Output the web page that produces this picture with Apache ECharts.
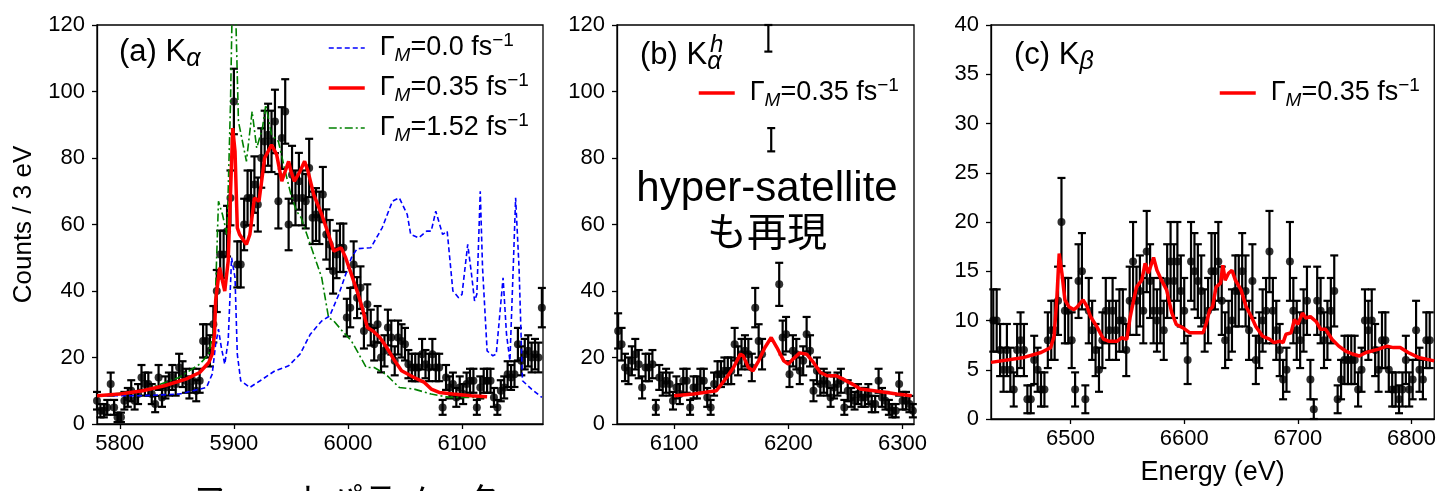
<!DOCTYPE html>
<html><head><meta charset="utf-8">
<script src="https://cdn.jsdelivr.net/npm/echarts@6/dist/echarts.min.js"></script>
<style>html,body{margin:0;padding:0;background:#fff}#c{width:1439px;height:491px}</style>
</head><body><div id="c"></div><script>
// ---------- DATA ----------
const kaTicks = [5800, 5900, 6000, 6100];
const kahTicks = [6100, 6200, 6300];
const kbTicks = [6500, 6600, 6700, 6800];

// (a) K-alpha measured counts [energy, counts]
const kaCounts = [[5780,7],[5783,4],[5786,4],[5789,5],[5792,12],[5795,5],[5798,2],[5801,2],[5804,7],[5807,8],
[5810,10],[5813,7],[5816,9],[5819,14],[5822,12],[5825,12],[5828,9],[5831,6],[5834,14],[5837,8],
[5840,11],[5843,12],[5846,14],[5849,12],[5852,17],[5855,15],[5858,13],[5861,11],[5864,13],[5867,10],
[5870,13],[5873,25],[5876,25],[5879,22],[5882,30],[5885,40],[5888,51],[5891,51],[5894,58],[5897,68],
[5900,97],[5903,48],[5906,48],[5909,60],[5912,68],[5915,68],[5918,72],[5921,66],[5924,80],[5927,85],
[5930,87],[5933,85],[5936,91],[5939,67],[5942,86],[5945,94],[5948,60],[5951,75],[5954,68],[5957,73],
[5960,68],[5963,67],[5966,77],[5969,62],[5972,63],[5975,62],[5978,69],[5981,57],[5984,54],[5987,46],
[5990,51],[5993,53],[5996,53],[5999,32],[6002,35],[6005,48],[6008,38],[6011,41],[6014,28],[6017,36],
[6020,29],[6023,24],[6026,30],[6029,20],[6032,22],[6035,29],[6038,26],[6041,19],[6044,26],[6047,25],
[6050,24],[6053,18],[6056,17],[6059,17],[6062,17],[6065,21],[6068,18],[6071,17],[6074,21],[6077,17],
[6080,17],[6083,5],[6086,14],[6089,11],[6092,12],[6095,8],[6098,11],[6101,9],[6104,12],[6107,13],
[6110,13],[6113,5],[6116,11],[6119,13],[6122,13],[6125,13],[6128,8],[6131,5],[6134,10],[6137,11],
[6140,15],[6143,14],[6146,15],[6149,24],[6152,19],[6155,21],[6158,22],[6161,20],[6164,21],[6167,20],[6170,35]];

const kaModel00 = [[5780,8.5],[5820,8.5],[5852,9],[5876,11],[5881,15],[5884,24],[5886.5,28.5],[5889,23],[5892,18],[5895,25],[5898,50],[5901,44],[5903,21],[5906,13],[5914,11],[5923,13],[5936,16],[5948,17.5],[5958,21],[5967,27],[5977,31],[5984,32.5],[5992,39],[6003,50],[6008,52.7],[6020,53],[6030,59],[6039,67],[6045,68],[6052,63],[6055,57],[6062,56],[6069,58],[6073,58],[6077,64],[6083,57],[6087,58],[6092,40],[6097,38],[6100,39],[6105,54],[6108,46],[6111,37],[6113,39],[6116,70],[6118,47],[6122,22],[6127,20.5],[6130,21],[6136,44],[6139,27],[6142,19],[6145,48],[6147,68],[6150,47],[6153,13],[6161,10.5],[6170,8]];

const kaModel035 = [[5780,8.5],[5800,9],[5820,10],[5839,11.5],[5858,13.5],[5870,15.5],[5878,18.5],[5881,21],[5883,27],[5884,37],[5887.5,47],[5890,43],[5892,40],[5895,49],[5898,79],[5899,89],[5901,82],[5903,59],[5905,57],[5911,54],[5914,57],[5918,68],[5922,67],[5927,80],[5933,84],[5937.5,81],[5942,73],[5945,76],[5948,79],[5950,76],[5953,73],[5958,76],[5962,79],[5965,76],[5970,69],[5977,63],[5983,57],[5987.5,52],[5994,53],[5998,50],[6003,45],[6008,40],[6012.5,35],[6017,29],[6022,28],[6028,26],[6034,23],[6041,19],[6047,16],[6058,14],[6067,12.5],[6073,10.5],[6080,9.5],[6092,9],[6108,8.5],[6122,8.2]];

const kaModel152 = [[5780,8.5],[5820,10],[5852,14],[5870,18],[5878,21],[5883,30],[5886.5,67],[5890,63],[5894,57],[5897,96],[5898.5,125],[5901.5,125],[5904,91],[5911,79],[5916,94],[5920,83],[5925,89],[5928,96],[5933,87],[5939,85],[5945,76],[5950,69],[5955,64],[5959,62],[5964,57],[5970,51],[5977,44],[5983,32],[5987.5,31],[5995,28],[6003,25],[6008,22],[6016,17],[6023,17],[6033,15],[6045,11],[6058,10.5],[6073,9],[6089,8],[6104,8],[6122,8]];

// (b) K-alpha hyper-satellite
const kahCounts = [[6051,28],[6054,24],[6057,17],[6060,16],[6063,19],[6066,21],[6069,18],[6072,11],[6075,17],[6078,17],[6081,18],[6084,5],[6087,14],[6090,12],[6093,13],[6096,12],[6099,7],[6102,11],[6105,9],[6108,13],[6111,13],[6114,5],[6117,11],[6120,11],[6123,13],[6126,13],[6129,8],[6132,5],[6135,12],[6138,15],[6141,15],[6144,16],[6147,16],[6150,16],[6153,24],[6156,19],[6159,21],[6162,22],[6165,21],[6168,17],[6171,35],[6174,25],[6177,21],[6192,42],[6195,26],[6198,27],[6201,15],[6204,22],[6207,21],[6210,16],[6213,19],[6216,27],[6219,22],[6222,10],[6225,16],[6228,12],[6231,13],[6234,12],[6237,8],[6240,11],[6243,12],[6246,13],[6249,5],[6252,10],[6255,8],[6258,7],[6261,9],[6264,8],[6267,8],[6270,9],[6273,6],[6276,6],[6279,13],[6282,8],[6285,7],[6288,5],[6291,4],[6294,4],[6297,12],[6300,7],[6303,7],[6306,6],[6309,4]];
// bars whose points lie behind the annotation / above the frame: [energy, low, high]
const kahOffscale = [[6182.5,112,120],[6185,82,89]];
const kahModel035 = [[6100,8.5],[6117,9],[6137,10],[6146,14],[6152,17],[6158,21],[6160.5,20.5],[6165,17],[6169,16],[6174,19],[6179.5,23],[6185,26],[6190,23],[6196,19],[6200,18],[6204,19.5],[6210,21.4],[6216,21],[6222,18.5],[6228,15.5],[6234,14.5],[6242,14.5],[6248,13.5],[6256,12],[6263,10.5],[6275,10],[6286,9.5],[6295,9],[6308,8.5]];

// (c) K-beta
const kbCounts = [[6432,10],[6435,10],[6438,7],[6441,5],[6444,7],[6447,5],[6450,3],[6453,7],[6456,8],[6459,7],
[6462,2],[6465,2],[6468,6],[6471,5],[6474,3],[6477,3],[6480,8],[6483,9],[6486,9],[6489,12],
[6492,20],[6495,11],[6498,11],[6501,8],[6504,3],[6507,14],[6510,15],[6513,2],[6516,11],[6519,9],
[6522,7],[6525,5],[6528,8],[6531,11],[6534,9],[6537,11],[6540,9],[6543,10],[6546,10],[6549,7],
[6552,12],[6555,16],[6558,12],[6561,13],[6564,11],[6567,17],[6570,14],[6573,11],[6576,10],[6579,11],
[6582,9],[6585,14],[6588,16],[6591,14],[6594,16],[6597,13],[6600,11],[6603,6],[6606,16],[6609,15],
[6612,14],[6615,13],[6618,10],[6621,11],[6624,15],[6627,15],[6630,16],[6633,12],[6636,8],[6639,9],
[6642,10],[6645,13],[6648,13],[6651,15],[6654,13],[6657,9],[6660,14],[6663,6],[6666,8],[6669,10],
[6672,11],[6675,17],[6678,11],[6681,9],[6684,7],[6687,4],[6690,5],[6693,16],[6696,11],[6699,9],
[6702,8],[6705,10],[6708,12],[6711,4],[6714,1],[6717,12],[6720,11],[6723,8],[6726,9],[6729,11],
[6732,13],[6735,2],[6738,4],[6741,6],[6744,6],[6747,6],[6750,6],[6753,3],[6756,5],[6759,10],
[6762,9],[6765,10],[6768,7],[6771,5],[6774,8],[6777,8],[6780,5],[6783,3],[6786,3],[6789,2],
[6792,3],[6795,6],[6798,3],[6801,4],[6804,9],[6807,5],[6810,4],[6813,8],[6816,8]];
const kbModel035 = [[6430,5.75],[6459,6.25],[6474,6.75],[6482.5,7.25],[6485.5,8.4],[6488,12.4],[6490,16.8],[6492.4,14.8],[6495,12.1],[6498.5,11.4],[6503,11.1],[6506,11.4],[6511,12.1],[6514.6,11.4],[6517.5,10.4],[6523,9.4],[6529,8.1],[6533.5,7.9],[6541,7.9],[6545,8.25],[6549.5,8.1],[6552.5,10.4],[6558,13.4],[6562.7,14.1],[6565.6,15.8],[6568.5,14.8],[6573,16.4],[6576,15.1],[6580,14.1],[6584.5,13.1],[6589,10.8],[6593,9.6],[6599,9.25],[6605,8.75],[6611,8.75],[6616.6,8.75],[6619.5,9.75],[6622.5,11.1],[6625,11.4],[6628,13.4],[6632,13.8],[6634,15.6],[6636,14.1],[6639,14.8],[6642,15.1],[6645,14.1],[6650,13.1],[6654.5,11.4],[6659,10.4],[6663,9.4],[6669,8.4],[6675,8.1],[6679,7.75],[6684,7.9],[6687,7.75],[6689.5,8.6],[6694,8.75],[6697,10.1],[6700,9.6],[6704,10.75],[6707,10.25],[6711,10.4],[6716,9.9],[6720,9.1],[6724.5,9.1],[6730,8.1],[6736,7.4],[6742,6.9],[6748,6.6],[6754,6.4],[6760,6.75],[6765,6.9],[6771,7.1],[6778.5,7.4],[6784,7.25],[6790,7.25],[6797,6.75],[6806,6.25],[6820,5.9]];

const gammaLabel = {G00a:'0.0', G035a:'0.35', G152a:'1.52', G035b:'0.35', G035c:'0.35'};

// ---------- CHART ----------
const FF = "'Liberation Sans', Arial, Helvetica, sans-serif";
const FJ = "'Noto Sans CJK JP', 'Liberation Sans', sans-serif";
const chart = echarts.init(document.getElementById('c'), null, {renderer:'canvas'});

const grids = [
  {left:97, top:25, width:446, height:399},
  {left:617, top:25, width:297, height:399},
  {left:991, top:25, width:446, height:399}
].map(g => Object.assign(g, {show:true, borderColor:'#000', borderWidth:1.3, containLabel:false}));

const plain = v => String(v);
function xAx(gi, min, max, ticks, name) {
  const a = {type:'value', gridIndex:gi, min, max,
    axisLine:{show:true, onZero:false, lineStyle:{color:'#000', width:1.3}},
    axisTick:{show:true, inside:false, length:5, customValues:ticks, lineStyle:{color:'#000', width:1.3}},
    axisLabel:{show:true, customValues:ticks, formatter:plain, color:'#000', fontSize:22, fontFamily:FF, margin:9},
    splitLine:{show:false}};
  if (name) Object.assign(a, {name, nameLocation:'middle', nameGap:40,
    nameTextStyle:{color:'#000', fontSize:27, fontFamily:FF}});
  return a;
}
function yAx(gi, max, interval, name) {
  const a = {type:'value', gridIndex:gi, min:0, max, interval,
    axisLine:{show:true, onZero:false, lineStyle:{color:'#000', width:1.3}},
    axisTick:{show:true, inside:false, length:5, lineStyle:{color:'#000', width:1.3}},
    axisLabel:{show:true, formatter:plain, color:'#000', fontSize:22, fontFamily:FF, margin:12},
    splitLine:{show:false}};
  if (name) Object.assign(a, {name, nameLocation:'middle', nameGap:60,
    nameTextStyle:{color:'#000', fontSize:26, fontFamily:FF}});
  return a;
}

function drawBar(params, api, x, lo, hi) {
  const cs = params.coordSys;
  const pTop = api.coord([x, hi]), pBot = api.coord([x, lo]);
  const px = pTop[0];
  if (px < cs.x - 4 || px > cs.x + cs.width + 4) return null;
  const yT = Math.max(pTop[1], cs.y), yB = Math.min(pBot[1], cs.y + cs.height);
  const st = {stroke:'#000', lineWidth:2.2};
  const ch = [{type:'line', shape:{x1:px, y1:yT, x2:px, y2:yB}, style:st}];
  if (pTop[1] >= cs.y - 0.5) ch.push({type:'line', shape:{x1:px-4, y1:pTop[1], x2:px+4, y2:pTop[1]}, style:st});
  if (pBot[1] <= cs.y + cs.height + 0.5) ch.push({type:'line', shape:{x1:px-4, y1:pBot[1], x2:px+4, y2:pBot[1]}, style:st});
  return {type:'group', children:ch};
}
function errRender(params, api) {
  const x = api.value(0), y = api.value(1), e = Math.sqrt(y);
  return drawBar(params, api, x, y - e, y + e);
}
function rangeRender(params, api) {
  return drawBar(params, api, api.value(0), api.value(1), api.value(2));
}
const errS = (gi, data) => ({type:'custom', xAxisIndex:gi, yAxisIndex:gi, data, renderItem:errRender, silent:true, z:2});
const dotS = (gi, data) => ({type:'scatter', xAxisIndex:gi, yAxisIndex:gi, data, symbol:'circle', symbolSize:8, itemStyle:{color:'#000'}, silent:true, z:3});
const lineS = (gi, name, data, color, width, type, z) => ({type:'line', name, xAxisIndex:gi, yAxisIndex:gi, data,
  showSymbol:false, symbol:'none', clip:true, lineStyle:{color, width, type}, itemStyle:{color}, z, silent:true});

const legRich = {
  g:{fontSize:27, fontFamily:FF, color:'#000', lineHeight:34, verticalAlign:'middle', padding:[0,0,0,10]},
  sub:{fontSize:19, fontFamily:FF, fontStyle:'italic', color:'#000', lineHeight:16, verticalAlign:'bottom'},
  t:{fontSize:27, fontFamily:FF, color:'#000', lineHeight:34, verticalAlign:'middle'},
  sup:{fontSize:19, fontFamily:FF, color:'#000', lineHeight:14, verticalAlign:'top'}
};
const legFmt = name => `{g|Γ}{sub|M}{t|=${gammaLabel[name]} fs}{sup|−1}`;
const legBase = {orient:'vertical', itemWidth:36, itemHeight:14, itemGap:6, padding:0, selectedMode:false,
  itemStyle:{opacity:0}, formatter:legFmt, textStyle:{rich:legRich}};
const legItem = (name, color, width, type) => ({name, lineStyle:{color, width, type, opacity:1}});

const titleRich = {
  m:{fontSize:31, fontFamily:FF, fontWeight:'normal', color:'#000', lineHeight:40, verticalAlign:'middle'},
  s:{fontSize:25, fontFamily:FF, fontWeight:'normal', fontStyle:'italic', color:'#000', lineHeight:22, verticalAlign:'bottom'},
  h:{fontSize:24, fontFamily:FF, fontWeight:'normal', fontStyle:'italic', color:'#000', lineHeight:22}
};
const T = (text, left, top) => ({text, left, top, padding:0, textStyle:{fontWeight:'normal', rich:titleRich}});

const option = {
  animation:false,
  backgroundColor:'#fff',
  grid:grids,
  xAxis:[xAx(0,5780,6171,kaTicks), xAx(1,6050,6310,kahTicks), xAx(2,6430,6820,kbTicks,'Energy (eV)')],
  yAxis:[yAx(0,120,20,'Counts / 3 eV'), yAx(1,120,20), yAx(2,40,5)],
  title:[T('{m|(b) K}{s|α}',640,35), T('{h|h}',710,34), T('{m|(a) K}{s|α}',119,32), T('{m|(c) K}{s|β}',1014,35)],
  legend:[
    Object.assign({}, legBase, {left:327, top:31, data:[
      legItem('G00a','#0000ff',1.6,[5,3]), legItem('G035a','#ff0000',3.5,'solid'), legItem('G152a','#008000',1.6,[8,3,2,3])]}),
    Object.assign({}, legBase, {left:697, top:76, data:[legItem('G035b','#ff0000',3.5,'solid')]}),
    Object.assign({}, legBase, {left:1218, top:76, data:[legItem('G035c','#ff0000',3.5,'solid')]})
  ],
  graphic:[
    {type:'text', x:767, y:189, style:{text:'hyper-satellite', fill:'#000', font:`42px ${FF}`, align:'center', verticalAlign:'middle'}},
    {type:'text', x:767, y:231, style:{text:'も再現', fill:'#000', font:`40px ${FJ}`, align:'center', verticalAlign:'middle'}},
    {type:'text', x:193, y:482, style:{text:'フィットパラメータ', fill:'#000', font:`34px ${FJ}`, align:'left', verticalAlign:'top'}}
  ],
  series:[
    errS(0, kaCounts), dotS(0, kaCounts),
    lineS(0,'G00a',kaModel00,'#0000ff',1.6,[5,3],5),
    lineS(0,'G152a',kaModel152,'#008000',1.6,[8,3,2,3],6),
    lineS(0,'G035a',kaModel035,'#ff0000',3.5,'solid',7),
    errS(1, kahCounts), dotS(1, kahCounts),
    {type:'custom', xAxisIndex:1, yAxisIndex:1, data:kahOffscale, renderItem:rangeRender, silent:true, z:2},
    lineS(1,'G035b',kahModel035,'#ff0000',3.5,'solid',7),
    errS(2, kbCounts), dotS(2, kbCounts),
    lineS(2,'G035c',kbModel035,'#ff0000',3.5,'solid',7)
  ]
};
chart.setOption(option);
</script></body></html>
